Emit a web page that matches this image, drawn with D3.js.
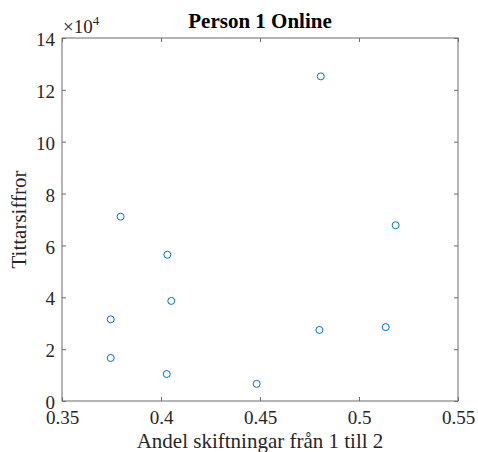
<!DOCTYPE html>
<html>
<head>
<meta charset="utf-8">
<script src="https://cdn.jsdelivr.net/npm/d3@7"></script>
<style>
  html, body { margin: 0; padding: 0; background: #fff; }
  svg { display: block; }
  text { font-family: "Liberation Serif", "Times New Roman", serif; fill: #262626; }
</style>
</head>
<body>
<svg id="chart" width="478" height="452"></svg>
<script>
// Share of shifts from 1 to 2 vs. viewer figures
const shareValues = [0.4807, 0.5185, 0.5135, 0.4800, 0.3796, 0.4032, 0.4052, 0.3746, 0.3746, 0.4029, 0.4483];
const viewerValues = [125200, 67800, 28500, 27400, 71100, 56400, 38600, 31500, 16600, 10400, 6600];
const xTicks = [0.35, 0.4, 0.45, 0.5, 0.55];
const yTicks = [0, 20000, 40000, 60000, 80000, 100000, 120000, 140000];

const margin = { left: 62, right: 20, top: 38, bottom: 51 };
const W = 478, H = 452;
const svg = d3.select("#chart");

const x = d3.scaleLinear().domain([0.35, 0.55]).range([margin.left, W - margin.right]);
const y = d3.scaleLinear().domain([0, 140000]).range([H - margin.bottom, margin.top]);

const axisColor = "#6b6b6b";
const tickLen = 4;

// Frame
svg.append("rect")
  .attr("x", x(0.35)).attr("y", y(140000))
  .attr("width", x(0.55) - x(0.35)).attr("height", y(0) - y(140000))
  .attr("fill", "none").attr("stroke", axisColor).attr("stroke-width", 1);

// Bottom axis with labels, inward ticks
const gx = svg.append("g").attr("transform", `translate(0,${y(0)})`)
  .call(d3.axisBottom(x).tickValues(xTicks).tickSizeInner(-tickLen).tickSizeOuter(0).tickPadding(10)
    .tickFormat(d => d3.format("")(+d.toFixed(2))));
gx.select(".domain").remove();
gx.selectAll("line").attr("stroke", axisColor);
gx.selectAll("text").attr("font-size", 19).attr("font-family", "Liberation Serif").attr("fill", "#262626");

// Top mirror ticks
const gxt = svg.append("g").attr("transform", `translate(0,${y(140000)})`)
  .call(d3.axisTop(x).tickValues(xTicks).tickSizeInner(-tickLen).tickSizeOuter(0).tickFormat(""));
gxt.select(".domain").remove();
gxt.selectAll("line").attr("stroke", axisColor);

// Left axis
const gy = svg.append("g").attr("transform", `translate(${x(0.35)},0)`)
  .call(d3.axisLeft(y).tickValues(yTicks).tickSizeInner(-tickLen).tickSizeOuter(0).tickPadding(7)
    .tickFormat(d => d / 10000));
gy.select(".domain").remove();
gy.selectAll("line").attr("stroke", axisColor);
gy.selectAll("text").attr("font-size", 19).attr("dy", "0.4em")
  .attr("font-family", "Liberation Serif").attr("fill", "#262626");

// Right mirror ticks
const gyr = svg.append("g").attr("transform", `translate(${x(0.55)},0)`)
  .call(d3.axisRight(y).tickValues(yTicks).tickSizeInner(-tickLen).tickSizeOuter(0).tickFormat(""));
gyr.select(".domain").remove();
gyr.selectAll("line").attr("stroke", axisColor);

// Exponent label
const expo = svg.append("text").attr("x", x(0.35) + 1).attr("y", y(140000) - 5)
  .attr("font-size", 19);
expo.append("tspan").text("\u00d710");
expo.append("tspan").attr("font-size", 13).attr("dy", -8).text("4");

// Title
svg.append("text").attr("x", (x(0.35) + x(0.55)) / 2).attr("y", 28)
  .attr("text-anchor", "middle").attr("font-size", 21).attr("font-weight", "bold")
  .style("fill", "#000")
  .text("Person 1 Online");

// Axis titles
svg.append("text").attr("x", (x(0.35) + x(0.55)) / 2).attr("y", 448)
  .attr("text-anchor", "middle").attr("font-size", 21)
  .text("Andel skiftningar från 1 till 2");

svg.append("text")
  .attr("transform", `translate(26,${(y(0) + y(140000)) / 2}) rotate(-90)`)
  .attr("text-anchor", "middle").attr("font-size", 21)
  .text("Tittarsiffror");

// Markers
svg.append("g").selectAll("circle")
  .data(shareValues.map((s, i) => [s, viewerValues[i]]))
  .join("circle")
  .attr("cx", d => x(d[0])).attr("cy", d => y(d[1]))
  .attr("r", 3.5)
  .attr("fill", "none").attr("stroke", "#0072BD").attr("stroke-width", 1);
</script>
</body>
</html>
